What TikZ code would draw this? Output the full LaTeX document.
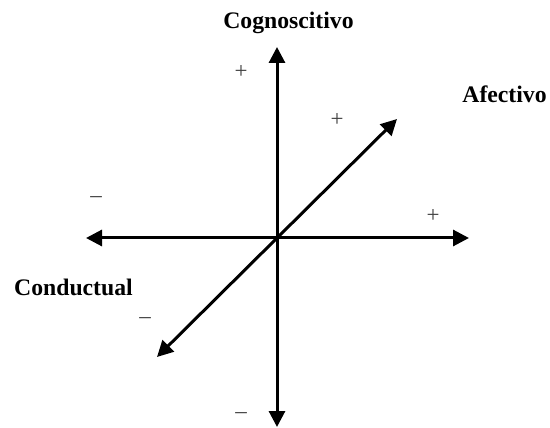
\documentclass[tikz,border=0pt]{standalone}
\usepackage{fontspec}
\setmainfont{Liberation Serif}
\usetikzlibrary{arrows.meta}

\begin{document}
\begin{tikzpicture}[x=1pt, y=-1pt,
    axis/.style={line width=3pt, {Triangle[length=16pt,width=16pt]}-{Triangle[length=16pt,width=16pt]}},
    lbl/.style={font=\fontsize{23.7}{28}\selectfont\bfseries, inner sep=0pt, anchor=base},
    sgn/.style={font=\fontsize{23}{28}\selectfont, inner sep=0pt, text=black!75}]
  \useasboundingbox (0,0) rectangle (550,428);
  % the three axes
  \coordinate (O) at (277,238);
  \coordinate (cogT) at (277,47);
  \coordinate (cogB) at (277,427);
  \coordinate (left) at (86,238);
  \coordinate (right) at (469,238);
  \coordinate (afe) at (397,119);
  \coordinate (con) at (157,357);
  \draw[axis] (cogB) -- (cogT);
  \draw[axis] (left) -- (right);
  \draw[axis] (con) -- (afe);
  % names
  \node[lbl] (cog) at (288.5,29) {Cognoscitivo};
  \node[lbl] (afec) at (504.5,103) {Afectivo};
  \node[lbl] (cond) at (73.5,295) {Conductual};
  % signs
  \node[sgn] (p1) at (241,72) {+};
  \node[sgn] (p2) at (337,120) {+};
  \node[sgn] (p3) at (433,216) {+};
  \node[sgn] (m1) at (96,200) {–};
  \node[sgn] (m2) at (145,321) {–};
  \node[sgn] (m3) at (241,416) {–};
\end{tikzpicture}
\end{document}
